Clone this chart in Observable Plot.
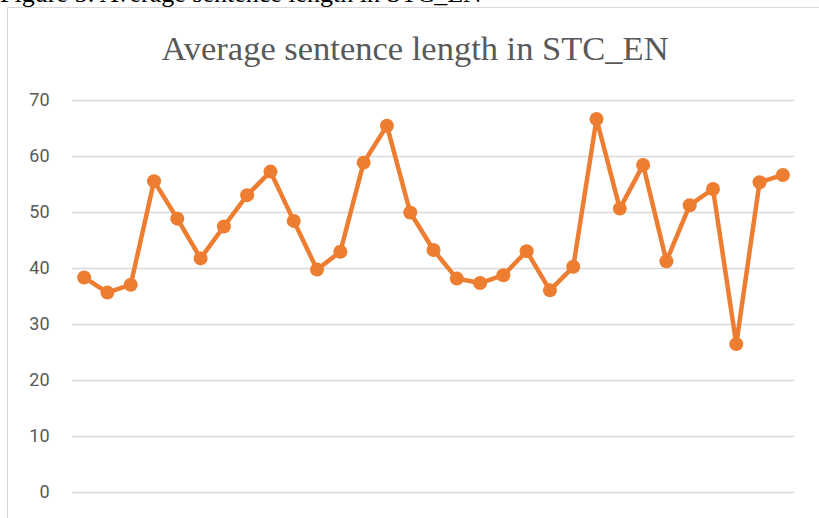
<!DOCTYPE html>
<html>
<head>
<meta charset="utf-8">
<script src="https://cdn.jsdelivr.net/npm/d3@7"></script>
<script src="https://cdn.jsdelivr.net/npm/@observablehq/plot@0.6"></script>
<style>
  html, body { margin: 0; padding: 0; background: #fff; }
  #wrap { position: relative; width: 819px; height: 518px; overflow: hidden; background: #fff; }
  #caption { position: absolute; left: 0; top: -18.8px; font-family: "Liberation Serif", serif; font-size: 26px; line-height: 1; color: #000; white-space: nowrap; }
  #frame { position: absolute; left: 7px; top: 7px; width: 900px; height: 600px; border-left: 1.5px solid #d9d9d9; border-top: 1.5px solid #d9d9d9; }
  #title { position: absolute; left: 0; width: 830px; text-align: center; top: 31px; font-family: "Liberation Serif", serif; font-size: 34.5px; line-height: 1; color: #595959; white-space: nowrap; }
  #chart { position: absolute; left: 0; top: 0; }
</style>
</head>
<body>
<div id="wrap">
  <div id="caption">Figure 5: Average sentence length in STC_EN</div>
  <div id="frame"></div>
  <div id="title">Average sentence length in STC_EN</div>
  <div id="chart"></div>
</div>
<script>
const texts = [1,2,3,4,5,6,7,8,9,10,11,12,13,14,15,16,17,18,19,20,21,22,23,24,25,26,27,28,29,30,31];
const avgLength = [38.4, 35.7, 37.1, 55.6, 48.9, 41.8, 47.5, 53.1, 57.3, 48.5, 39.8, 43.0, 58.9, 65.5, 50.0, 43.3, 38.2, 37.4, 38.8, 43.1, 36.1, 40.3, 66.7, 50.7, 58.5, 41.3, 51.3, 54.2, 26.5, 55.4, 56.7];
const yTicks = [0, 10, 20, 30, 40, 50, 60, 70];

const data = texts.map((t, i) => ({text: t, value: avgLength[i]}));

const chart = Plot.plot({
  width: 819,
  height: 518,
  marginLeft: 72,
  marginRight: 25,
  marginTop: 100,
  marginBottom: 26,
  style: {background: "transparent", fontFamily: "Roboto, sans-serif", fontSize: "18px", color: "#595959", overflow: "visible"},
  x: {type: "point", domain: texts, padding: 0.5, round: false, axis: null},
  y: {domain: [0, 70], ticks: yTicks, tickSize: 0, tickPadding: 23, label: null},
  marks: [
    Plot.ruleY(yTicks, {stroke: "#d9d9d9", strokeWidth: 1.5}),
    Plot.axisY({ticks: yTicks, tickSize: 0, tickPadding: 23, label: null, fill: "#595959"}),
    Plot.line(data, {x: "text", y: "value", stroke: "#ED7D31", strokeWidth: 4.5, strokeLinejoin: "round", strokeLinecap: "round"}),
    Plot.dot(data, {x: "text", y: "value", r: 7, fill: "#ED7D31", stroke: "none"})
  ]
});
document.getElementById("chart").appendChild(chart);
</script>
</body>
</html>
